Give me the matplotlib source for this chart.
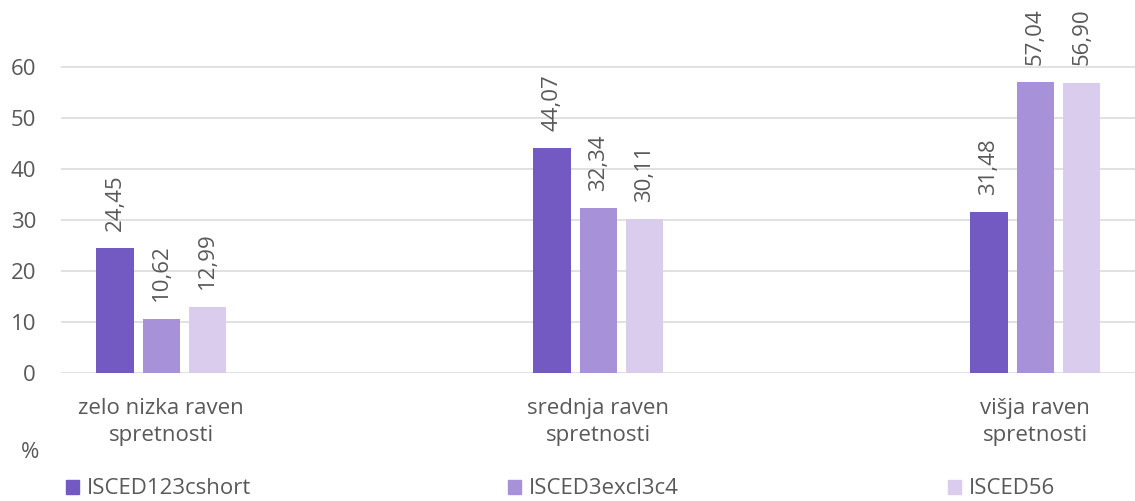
import matplotlib
matplotlib.use("Agg")
import matplotlib.pyplot as plt
import numpy as np
from matplotlib.patches import Patch

categories = ["zelo nizka raven\nspretnosti", "srednja raven\nspretnosti", "višja raven\nspretnosti"]
series_names = ["ISCED123cshort", "ISCED3excl3c4", "ISCED56"]
isced123 = [24.45, 44.07, 31.48]
isced3 = [10.62, 32.34, 57.04]
isced56 = [12.99, 30.11, 56.90]
colors = ["#735AC3", "#A792DA", "#D9CCEC"]
yticks = [0, 10, 20, 30, 40, 50, 60]

plt.rcParams['font.family'] = ['Open Sans', 'DejaVu Sans']
txt = "#595959"
fs = 16

fig = plt.figure(figsize=(11.35, 5.01), dpi=100)
ax = fig.add_axes([61/1135, 128/501, 1 - 61/1135, 373/501])

x = np.arange(len(categories))
w = 0.085
pitch = 0.106
for i, (vals, c, name) in enumerate(zip([isced123, isced3, isced56], colors, series_names)):
    pos = x + (i - 1) * pitch
    bars = ax.bar(pos, vals, width=w, color=c, zorder=3, label=name)
    for b, v in zip(bars, vals):
        ax.annotate(f"{v:.2f}".replace(".", ","), (b.get_x() + b.get_width() / 2, v),
                    xytext=(0, 12.5), textcoords="offset points", rotation=90,
                    ha="center", va="bottom", fontsize=fs, color=txt)

ax.set_xlim(-0.2295, 2.228)
ax.set_ylim(0, 73.14)
ax.set_yticks(yticks)
ax.set_xticks(x)
ax.set_xticklabels(categories, fontsize=fs, color=txt, linespacing=1.4)
ax.tick_params(axis='y', labelsize=fs, labelcolor=txt, length=0, pad=18)
ax.tick_params(axis='x', length=0, pad=18)
ax.grid(axis='y', color="#DEDEDE", linewidth=1.3, zorder=0)
for s in ax.spines.values():
    s.set_visible(False)

fig.text(30/1135, 1 - 452/501, "%", fontsize=fs, color=txt, ha="center", va="center")

xs = [66, 508, 948]
for name, c, xx in zip(series_names, colors, xs):
    fig.legend(handles=[Patch(color=c, label=name)], loc="center left",
               bbox_to_anchor=(xx/1135, 1 - 489/501), frameon=False,
               fontsize=fs, labelcolor=txt, handlelength=0.6, handleheight=0.6,
               handletextpad=0.35, borderaxespad=0, borderpad=0)

fig.savefig("out.png", dpi=100)
